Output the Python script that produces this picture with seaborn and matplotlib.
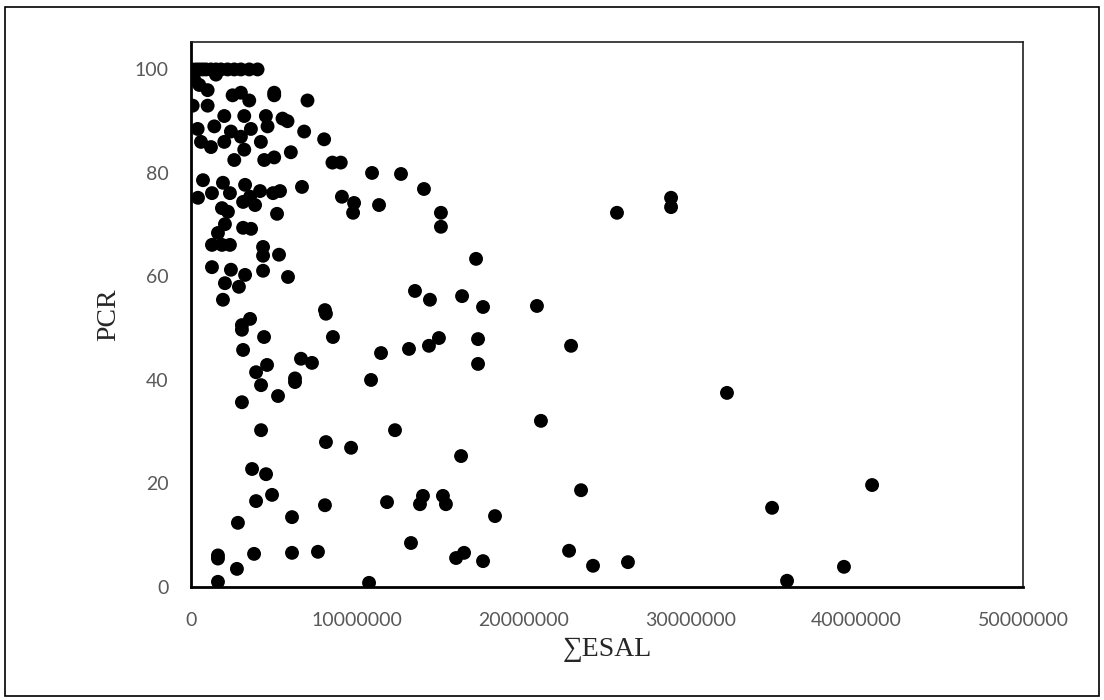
import matplotlib
matplotlib.use("Agg")
import matplotlib.pyplot as plt
import seaborn as sns
import numpy as np
from matplotlib.patches import Rectangle

# ESAL in millions, PCR
esal_m = [
    # upper cluster (PCR > 80)
    0.05, 0.3, 0.5, 0.7, 0.9, 1.2, 1.5, 1.8, 2.2, 2.6, 3.0, 3.5, 4.0,
    0.2, 0.5, 1.0, 1.5, 2.5, 3.0, 3.5, 5.0, 5.0, 0.1, 1.0, 2.0, 3.2, 4.5, 5.5,
    0.4, 1.4, 2.4, 3.6, 4.6, 5.8, 6.8, 0.6, 2.0, 3.0, 4.2, 7.0, 8.0, 1.2, 3.2,
    5.0, 8.5, 9.0, 2.6, 4.4, 6.0,
    # middle / lower part
    0.72, 0.42, 1.26, 1.92, 2.34, 3.25, 4.15, 4.93, 5.35, 6.67, 3.13, 3.85,
    3.55, 5.17, 1.86, 2.22, 2.04, 3.13, 3.61, 1.62, 1.26, 1.86, 2.34, 4.33,
    4.33, 5.29, 1.26, 2.40, 3.25, 4.33, 5.83, 2.04, 2.88, 1.92, 8.05, 10.88,
    9.07, 9.80, 9.74, 11.30, 12.62, 14.00, 15.02, 15.02, 17.13, 13.46, 14.36,
    16.29, 17.55, 20.79, 11.42, 13.10, 14.30, 14.90, 17.25, 17.25, 22.84,
    3.55, 3.06, 3.06, 4.39, 3.13, 4.57, 3.91, 4.21, 3.06, 5.23, 6.61, 7.27,
    6.25, 6.25, 8.11, 8.53, 10.82,
    4.21, 8.11, 9.62, 3.67, 4.51, 4.87, 3.91, 8.05, 2.82, 6.07, 1.62, 1.62,
    3.79, 6.07, 7.63, 2.76, 1.62, 10.70,
    12.26, 16.23, 21.03, 11.78, 13.94, 13.76, 15.14, 15.32, 18.27, 23.44,
    13.22, 15.93, 16.41, 17.55, 22.72, 24.16,
    28.85, 28.85, 25.60, 32.21, 40.93, 34.92, 26.26, 39.24, 35.82,
]
pcr = [
    100, 100, 100, 100, 100, 100, 100, 100, 100, 100, 100, 100, 100,
    98, 97, 96, 99, 95, 95.5, 94, 95, 95.5, 93, 93, 91, 91, 91, 90.5,
    88.5, 89, 88, 88.5, 89, 90, 88, 86, 86, 87, 86, 94, 86.5, 85, 84.5,
    83, 82, 82, 82.5, 82.5, 84,
    78.6, 75.2, 76.1, 78.1, 76.1, 77.7, 76.5, 76.1, 76.5, 77.3, 74.4, 73.8,
    75.4, 72.1, 73.2, 72.5, 70.1, 69.4, 69.2, 68.4, 66.1, 66.1, 66.1, 65.7,
    64.0, 64.2, 61.8, 61.3, 60.3, 61.1, 59.9, 58.7, 58.0, 55.5, 53.5, 80.0,
    75.4, 74.2, 72.3, 73.8, 79.8, 76.9, 72.3, 69.6, 63.4, 57.2, 55.5,
    56.2, 54.1, 54.3, 45.2, 46.0, 46.6, 48.1, 47.9, 43.1, 46.6,
    51.8, 50.6, 49.7, 48.3, 45.8, 42.9, 41.5, 39.0, 35.7, 36.9, 44.1, 43.3,
    39.6, 40.3, 52.8, 48.3, 40.0,
    30.3, 28.0, 26.9, 22.8, 21.8, 17.8, 16.6, 15.8, 12.4, 13.5, 5.5, 6.1,
    6.4, 6.6, 6.8, 3.5, 1.0, 0.8,
    30.3, 25.3, 32.1, 16.4, 17.6, 16.0, 17.6, 16.0, 13.7, 18.7,
    8.5, 5.6, 6.6, 5.0, 7.0, 4.1,
    75.2, 73.4, 72.3, 37.5, 19.7, 15.3, 4.8, 3.9, 1.2,
]
esal = [v * 1e6 for v in esal_m]

x_ticks = [0, 10000000, 20000000, 30000000, 40000000, 50000000]
y_ticks = [0, 20, 40, 60, 80, 100]

sns.set_style("white")
plt.rcParams["font.family"] = ["Lato", "DejaVu Sans"]

fig = plt.figure(figsize=(11.04, 7.0), dpi=100)
ax = fig.add_axes([191 / 1104, 1 - 587 / 700, (1023 - 191) / 1104, (587 - 42) / 700])

sns.scatterplot(x=esal, y=pcr, ax=ax, color="black", s=100, edgecolor="none", legend=False)

ax.set_xlim(0, 50000000)
ax.set_ylim(0, 105.3)
ax.set_xticks(x_ticks)
ax.set_xticklabels([str(t) for t in x_ticks])
ax.set_yticks(y_ticks)
ax.set_yticklabels([str(t) for t in y_ticks])
ax.tick_params(axis="both", length=0, labelsize=14, labelcolor="#595959")
ax.tick_params(axis="x", pad=18)
ax.tick_params(axis="y", pad=16)

for side in ["left", "bottom"]:
    ax.spines[side].set_color("black")
    ax.spines[side].set_linewidth(2.0)
for side in ["top", "right"]:
    ax.spines[side].set_color("#202020")
    ax.spines[side].set_linewidth(1.2)

ax.set_xlabel("\u2211ESAL", family=["Liberation Serif", "DejaVu Serif"], fontsize=20, labelpad=6)
ax.set_ylabel("PCR", family=["Liberation Serif", "DejaVu Serif"], fontsize=20, labelpad=10)

# outer chart frame
fig.patches.append(Rectangle((5 / 1104, 4 / 700), 1094 / 1104, 689 / 700, transform=fig.transFigure,
                             fill=False, edgecolor="black", linewidth=1.2))

fig.savefig("out.png", dpi=100)
